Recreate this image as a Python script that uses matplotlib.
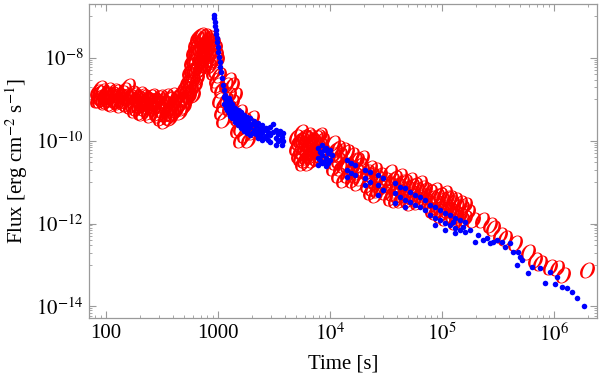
import matplotlib
matplotlib.use("Agg")
import matplotlib.pyplot as plt
from matplotlib.ticker import FixedLocator, NullFormatter

plt.rcParams['font.family'] = ['Liberation Serif', 'DejaVu Serif']
plt.rcParams['mathtext.fontset'] = 'stix'

# red points (early flare + late afterglow)
red_time = [83, 83, 88, 88, 96, 96, 104, 104, 113, 113, 123, 123, 133, 133,
            145, 145, 157, 157, 171, 171, 185, 185, 201, 201, 201, 218, 218,
            237, 237, 258, 258, 279, 279, 303, 303, 303, 330, 330, 358, 358, 358,
            388, 388, 388, 422, 422, 458, 458, 458, 497, 497, 497, 528, 528,
            551, 551, 574, 574, 598, 598, 623, 623, 649, 649, 649, 677, 677,
            705, 705, 705, 735, 735, 766, 766, 798, 832, 832, 866, 866, 902, 902,
            940, 940, 980, 980, 1021, 1021, 1064, 1064, 1109, 1109, 1179, 1179,
            1253, 1253, 1253, 1334, 1334, 1419, 1419, 1479, 1479, 1572, 1572, 1572,
            1706, 1706, 1853, 1853, 2012, 2012, 2184,
            5510, 5400, 5400, 5400, 5860, 5860, 5860, 6370, 6370, 6370, 6370,
            6910, 6910, 6910, 7500, 7500, 7500, 8140, 8140, 8140,
            10640, 10640, 10640, 11790, 11790, 11790, 13060, 13060, 13060,
            15710, 15710, 15710, 17410, 17410, 17410, 19300, 19300,
            22760, 22760, 22760, 25220, 25220, 25220, 27950, 27950,
            34330, 34330, 34330, 38050, 38050, 38050, 42170, 42170, 42170,
            46730, 46730, 51790, 51790, 51790, 57390, 57390, 63600, 63600,
            70490, 70490, 78120, 78120, 86570, 86570, 86570, 95940, 95940, 95940,
            1.063e5, 1.063e5, 1.063e5, 1.178e5, 1.178e5, 1.306e5, 1.306e5, 1.306e5,
            1.447e5, 1.447e5, 1.604e5, 1.604e5,
            1.89e5, 2.28e5, 2.68e5, 2.85e5, 3.29e5, 3.65e5, 4.48e5, 5.86e5,
            6.76e5, 7.49e5, 9.20e5, 1.06e6, 1.20e6, 1.97e6]
red_flux = [1.5e-9, 9.7e-10, 1.9e-9, 1.14e-9, 1.28e-9, 8.6e-10, 1.7e-9, 1.02e-9,
            1.35e-9, 7.7e-10, 1.5e-9, 9.1e-10, 1.21e-9, 7.3e-10, 1.7e-9, 9.7e-10,
            2.1e-9, 1.08e-9, 1.43e-9, 7.7e-10, 1.08e-9, 6.2e-10, 1.35e-9, 8.2e-10,
            5.0e-10, 1.14e-9, 6.2e-10, 9.7e-10, 5.0e-10, 1.21e-9, 6.9e-10, 9.1e-10,
            4.7e-10, 1.14e-9, 6.2e-10, 3.6e-10, 8.2e-10, 3.0e-10, 1.02e-9, 5.5e-10,
            3.8e-10, 1.28e-9, 6.9e-10, 4.4e-10, 1.08e-9, 5.5e-10, 1.35e-9, 7.7e-10,
            5.0e-10, 1.9e-9, 1.08e-9, 6.9e-10, 2.6e-9, 1.28e-9, 4.6e-9, 1.9e-9,
            8.0e-9, 2.9e-9, 1.4e-8, 5.1e-9, 2.2e-8, 8.9e-9, 3.0e-8, 1.4e-8, 6.4e-9,
            3.4e-8, 1.74e-8, 3.6e-8, 1.95e-8, 1.0e-8, 3.2e-8, 1.56e-8, 2.4e-8,
            1.18e-8, 1.56e-8, 2.2e-8, 1.12e-8, 2.6e-8, 1.4e-8, 2.3e-8, 8.9e-9,
            1.74e-8, 5.1e-9, 8.9e-9, 2.2e-9, 3.9e-9, 9.7e-10, 1.7e-9, 5.0e-10,
            7.3e-10, 3.2e-10, 2.2e-9, 9.7e-10, 2.9e-9, 1.28e-9, 6.2e-10, 2.2e-9,
            8.6e-10, 1.28e-9, 4.2e-10, 3.6e-10, 1.8e-10, 5.0e-10, 2.0e-10, 1.04e-10,
            3.2e-10, 1.38e-10, 2.4e-10, 1.04e-10, 3.6e-10, 1.6e-10, 1.8e-10,
            1.6e-10, 1.04e-10, 6.0e-11, 3.8e-11, 1.24e-10, 7.1e-11, 3.4e-11,
            1.38e-10, 7.9e-11, 4.5e-11, 2.9e-11, 1.04e-10, 6.0e-11, 3.4e-11,
            1.17e-10, 6.7e-11, 3.8e-11, 1.38e-10, 7.9e-11, 4.5e-11,
            8.8e-11, 4.5e-11, 2.2e-11, 6.7e-11, 3.4e-11, 1.49e-11, 6.0e-11, 2.6e-11,
            1.13e-11, 4.5e-11, 2.2e-11, 1.13e-11, 3.4e-11, 1.76e-11, 9.6e-12,
            3.8e-11, 2.0e-11, 2.2e-11, 1.13e-11, 5.8e-12, 2.0e-11, 1.01e-11, 4.9e-12,
            1.49e-11, 7.2e-12, 1.76e-11, 8.6e-12, 4.2e-12, 1.26e-11, 6.5e-12, 3.7e-12,
            1.41e-11, 7.2e-12, 3.7e-12, 1.01e-11, 4.9e-12, 1.13e-11, 5.8e-12, 3.1e-12,
            8.6e-12, 4.2e-12, 9.6e-12, 4.9e-12, 6.5e-12, 3.7e-12, 5.8e-12, 2.8e-12,
            6.5e-12, 3.3e-12, 1.9e-12, 4.9e-12, 2.4e-12, 1.6e-12, 5.5e-12, 2.8e-12,
            1.36e-12, 4.2e-12, 2.1e-12, 3.7e-12, 1.8e-12, 1.09e-12, 3.1e-12, 1.6e-12,
            2.8e-12, 1.36e-12,
            1.22e-12, 1.22e-12, 9.2e-13, 7.8e-13, 5.3e-13, 4.5e-13, 3.4e-13, 2.1e-13,
            1.32e-13, 1.12e-13, 8.9e-14, 8.5e-14, 5.7e-14, 7.6e-14]

# more red points in the dense parts
red_time_2 = [86.6, 86.6, 92, 92, 100, 100, 109, 109, 118, 118, 128, 128,
              139, 139, 151, 151, 164, 164, 178, 178, 178, 193, 193, 210, 210, 210,
              228, 228, 247, 247, 247, 268, 268, 291, 291, 291, 316, 316,
              343, 343, 343, 373, 373, 373, 405, 405, 439, 439, 477, 477, 518, 518,
              551, 551, 574, 574, 598, 598, 598, 623, 623, 623, 649, 649, 677, 677,
              705, 705, 735, 735, 766, 766, 766, 798, 798, 832, 832, 866, 866,
              902, 902, 959, 959,
              4970, 4970, 5180, 5180, 5620, 5620, 5620, 6110, 6110, 6110,
              6630, 6630, 6630, 7200, 7200, 7810, 7810, 8490, 8490,
              11090, 11090, 12280, 12280, 14190, 14190, 14190, 16720, 16720,
              18530, 18530, 21370, 21370, 23710, 23710, 26290, 26290, 30980, 30980,
              35790, 35790, 39670, 39670, 43970, 43970, 48700, 48700, 53960, 53960,
              59840, 59840, 66270, 66270, 81470, 81470, 90220, 90220, 1.0e5, 1.0e5,
              1.109e5, 1.109e5, 1.228e5, 1.228e5, 1.361e5, 1.361e5,
              1.509e5, 1.509e5, 1.706e5]
red_flux_2 = [1.43e-9, 9.7e-10, 1.6e-9, 1.02e-9, 1.35e-9, 9.1e-10, 1.21e-9, 8.2e-10,
              1.6e-9, 1.02e-9, 1.28e-9, 8.6e-10, 1.43e-9, 9.1e-10, 1.21e-9, 7.7e-10,
              1.14e-9, 6.9e-10, 1.28e-9, 8.2e-10, 5.5e-10, 1.08e-9, 7.3e-10,
              1.21e-9, 7.7e-10, 4.7e-10, 1.02e-9, 6.9e-10, 1.14e-9, 7.3e-10, 4.2e-10,
              9.7e-10, 6.2e-10, 1.08e-9, 6.9e-10, 4.2e-10, 9.1e-10, 5.5e-10,
              1.21e-9, 7.7e-10, 4.4e-10, 1.02e-9, 6.2e-10, 3.6e-10, 8.6e-10, 5.0e-10,
              1.21e-9, 6.9e-10, 1.02e-9, 6.2e-10, 1.7e-9, 9.7e-10,
              2.9e-9, 1.21e-9, 5.1e-9, 1.7e-9, 8.9e-9, 2.9e-9, 1.28e-9,
              1.4e-8, 5.1e-9, 2.2e-9, 2.06e-8, 3.3e-9, 1.0e-8, 5.1e-9,
              2.7e-8, 5.7e-9, 2.2e-8, 8.9e-9, 3.4e-8, 1.74e-8, 6.8e-9, 2.7e-8, 8.9e-9,
              3.0e-8, 6.4e-9, 1.95e-8, 8.0e-9, 1.56e-8, 4.6e-9, 1.18e-8, 2.9e-9,
              1.24e-10, 6.7e-11, 9.4e-11, 4.5e-11, 1.04e-10, 5.4e-11, 2.9e-11,
              1.17e-10, 6.0e-11, 4.0e-11, 1.24e-10, 7.1e-11, 4.2e-11, 9.4e-11, 5.4e-11,
              1.24e-10, 7.1e-11, 1.04e-10, 6.0e-11,
              6.0e-11, 3.1e-11, 4.5e-11, 2.2e-11, 5.4e-11, 2.6e-11, 1.49e-11,
              3.4e-11, 1.49e-11, 2.6e-11, 1.26e-11, 1.76e-11, 8.6e-12, 1.49e-11,
              7.2e-12, 1.26e-11, 6.5e-12, 1.13e-11, 5.8e-12, 1.13e-11, 5.5e-12,
              8.6e-12, 4.9e-12, 1.01e-11, 4.9e-12, 7.2e-12, 3.7e-12, 8.1e-12, 4.4e-12,
              6.5e-12, 3.3e-12, 7.2e-12, 3.7e-12, 4.2e-12, 2.1e-12, 4.6e-12, 2.5e-12,
              3.7e-12, 1.9e-12, 4.2e-12, 2.1e-12, 3.1e-12, 1.6e-12, 2.5e-12, 1.36e-12,
              2.4e-12, 1.22e-12, 1.9e-12]

# blue points
blue_time = [920, 920, 940, 940, 959, 959, 980, 980, 1000, 1000, 1021, 1042, 1042,
             1064, 1086, 1109, 1132, 1155,
             1179, 1179, 1253, 1253, 1253, 1334, 1334, 1334, 1419, 1419, 1419,
             1510, 1510, 1510, 1604, 1604, 1604, 1706, 1706, 1706, 1815, 1815, 1815,
             1931, 1931, 1931, 2095, 2095, 2275, 2275, 2275, 2470, 2470, 2470,
             2683, 2683, 2913, 2913, 2913, 3098, 3098, 3294, 3294, 3294, 3578, 3578,
             3800, 3800,
             7810, 7810, 7810, 8490, 8490, 8490, 9210, 9210, 9210, 10000, 10000,
             14190, 14190, 14190, 15400, 15400, 16720, 16720,
             20540, 20540, 20540, 22760, 22760, 26830, 26830, 26830, 29740, 29740,
             38050, 38050, 38050, 42170, 42170, 46730, 46730, 46730, 51790, 51790,
             57390, 57390, 63600, 63600, 70490, 70490, 78120, 78120,
             86570, 86570, 86570, 95940, 95940, 1.063e5, 1.063e5, 1.063e5,
             1.178e5, 1.178e5, 1.306e5, 1.306e5, 1.306e5, 1.447e5, 1.447e5,
             1.604e5, 1.604e5,
             1.253e5, 1.54e5, 1.78e5, 1.97e5, 2.10e5, 2.32e5, 2.52e5, 2.68e5,
             2.85e5, 3.10e5, 3.43e5, 3.65e5, 4.05e5, 4.30e5, 4.77e5, 4.97e5,
             5.18e5, 4.67e5, 5.86e5, 6.36e5, 7.49e5, 8.30e5, 9.20e5, 1.06e6,
             1.02e6, 1.18e6, 1.31e6, 1.45e6, 1.60e6, 1.85e6,
             1132, 1132, 1203, 1203, 1280, 1280, 1280, 1362, 1362, 1449, 1449,
             1540, 1540, 1637, 1637, 1742, 1742, 1853, 1853, 2012, 2012, 2184, 2184,
             2372, 2372, 2575, 2575, 2795, 2795, 3433, 3433, 3727, 3727,
             8140, 8140, 8830, 8830, 9590, 9590, 10450]
blue_flux = [1.09e-7, 9.2e-8, 7.4e-8, 5.9e-8, 4.7e-8, 3.8e-8, 3.0e-8, 2.4e-8,
             1.85e-8, 1.4e-8, 1.06e-8, 8.0e-9, 6.1e-9, 4.6e-9, 3.3e-9, 2.2e-9,
             1.7e-9, 1.28e-9,
             9.7e-10, 6.2e-10, 1.08e-9, 6.9e-10, 4.7e-10, 7.7e-10, 5.0e-10, 3.6e-10,
             6.2e-10, 4.2e-10, 2.8e-10, 5.5e-10, 3.6e-10, 2.4e-10, 5.0e-10, 3.2e-10,
             2.0e-10, 4.2e-10, 2.7e-10, 1.7e-10, 3.8e-10, 2.4e-10, 1.54e-10,
             3.6e-10, 2.15e-10, 1.38e-10, 3.0e-10, 1.8e-10, 2.7e-10, 1.7e-10,
             1.17e-10, 2.4e-10, 1.54e-10, 1.04e-10, 2.0e-10, 1.31e-10, 2.15e-10,
             1.38e-10, 9.4e-11, 2.5e-10, 1.6e-10, 1.8e-10, 1.17e-10, 7.9e-11,
             1.7e-10, 1.04e-10, 1.54e-10, 9.9e-11,
             6.7e-11, 3.8e-11, 2.6e-11, 7.9e-11, 4.5e-11, 2.9e-11, 6.7e-11, 3.8e-11,
             2.5e-11, 6.0e-11, 3.4e-11,
             3.4e-11, 2.0e-11, 1.34e-11, 2.9e-11, 1.67e-11, 2.6e-11, 1.49e-11,
             2.0e-11, 1.26e-11, 8.6e-12, 1.76e-11, 1.01e-11, 1.49e-11, 8.6e-12,
             4.9e-12, 1.26e-11, 6.5e-12,
             9.6e-12, 5.5e-12, 3.1e-12, 7.7e-12, 4.4e-12, 7.2e-12, 3.7e-12, 2.5e-12,
             5.8e-12, 3.3e-12, 4.9e-12, 2.8e-12, 4.4e-12, 2.5e-12, 3.7e-12, 2.1e-12,
             2.8e-12, 1.6e-12, 2.5e-12, 1.36e-12, 9.2e-13, 2.1e-12, 1.22e-12,
             1.8e-12, 1.03e-12, 7.0e-13, 1.6e-12, 9.2e-13, 1.36e-12, 7.8e-13,
             5.9e-13, 1.22e-12, 7.0e-13, 1.09e-12, 6.3e-13,
             1.09e-12, 8.3e-13, 7.0e-13, 3.6e-13, 5.3e-13, 4.0e-13, 4.5e-13, 3.4e-13,
             3.6e-13, 4.0e-13, 3.6e-13, 2.7e-13, 3.4e-13, 2.1e-13, 2.1e-13, 1.56e-13,
             1.32e-13, 1.0e-13, 6.4e-14, 8.9e-14, 8.5e-14, 3.7e-14, 6.8e-14, 5.1e-14,
             3.5e-14, 2.9e-14, 2.8e-14, 2.2e-14, 1.6e-14, 1.02e-14,
             1.14e-9, 7.7e-10, 8.2e-10, 5.5e-10, 9.1e-10, 5.9e-10, 4.0e-10,
             6.5e-10, 4.2e-10, 5.0e-10, 3.4e-10, 4.4e-10, 3.0e-10, 4.0e-10, 2.5e-10,
             3.4e-10, 2.15e-10, 3.0e-10, 1.9e-10, 2.5e-10, 1.54e-10, 2.3e-10,
             1.46e-10, 2.0e-10, 1.31e-10, 1.8e-10, 1.17e-10, 1.6e-10, 1.04e-10,
             1.46e-10, 9.9e-11, 1.24e-10, 7.9e-11,
             5.4e-11, 3.4e-11, 6.0e-11, 3.1e-11, 5.1e-11, 2.9e-11, 4.5e-11]

x_ticks = [100, 1000, 1e4, 1e5, 1e6]
x_labels = ['100', '1000', r'$10^4$', r'$10^5$', r'$10^6$']
y_ticks = [1e-14, 1e-12, 1e-10, 1e-8]
y_labels = [r'$10^{-14}$', r'$10^{-12}$', r'$10^{-10}$', r'$10^{-8}$']

fig = plt.figure(figsize=(6, 3.8), dpi=100)
ax = fig.add_axes([0.1483, 0.1632, 0.8467, 0.8263])

# O-Markierungen wie im Original
ax.plot(red_time + red_time_2, red_flux + red_flux_2, linestyle='none',
        marker='$O$', ms=11.5, color='#ff0000', mew=0)
ax.plot(blue_time, blue_flux, linestyle='none', marker='o', ms=4,
        color='#0000ff', mec='none')

ax.set_xscale('log')
ax.set_yscale('log')
ax.set_xlim(70.5, 2.42e6)
ax.set_ylim(5.25e-15, 2.0e-7)

ax.xaxis.set_major_locator(FixedLocator(x_ticks))
ax.set_xticklabels(x_labels)
ax.xaxis.set_minor_locator(FixedLocator(
    [m * 10.0 ** e for e in range(1, 7) for m in range(2, 10)]))
ax.xaxis.set_minor_formatter(NullFormatter())

ax.yaxis.set_major_locator(FixedLocator(y_ticks))
ax.set_yticklabels(y_labels)
ax.yaxis.set_minor_locator(FixedLocator(
    [m * 10.0 ** e for e in (-15, -13, -11, -9, -7) for m in range(1, 10)]))
ax.yaxis.set_minor_formatter(NullFormatter())

frame = '#9a9a9a'
for s in ax.spines.values():
    s.set_color(frame)
    s.set_linewidth(0.9)
ax.tick_params(which='both', direction='in', top=True, right=True,
               color=frame, labelsize=15)
ax.tick_params(which='major', length=5, width=0.8, pad=4)
ax.tick_params(which='minor', length=2.5, width=0.6)

ax.set_xlabel('Time [s]', fontsize=15, labelpad=6)
ax.set_ylabel(r'Flux [erg cm$^{-2}$ s$^{-1}$]', fontsize=15, labelpad=4)

fig.savefig('out.png', dpi=100)
